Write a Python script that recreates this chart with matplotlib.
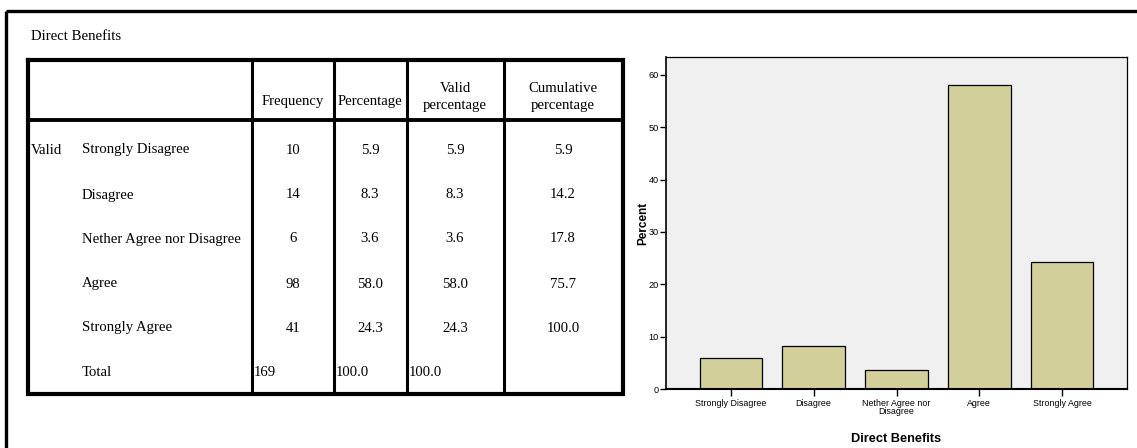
import matplotlib
matplotlib.use("Agg")
import matplotlib.pyplot as plt

# ---- data ----
title = "Direct Benefits"
categories = ["Strongly Disagree", "Disagree", "Nether Agree nor Disagree", "Agree", "Strongly Agree"]
tick_labels = ["Strongly Disagree", "Disagree", "Nether Agree nor\nDisagree", "Agree", "Strongly Agree"]
frequency = [10, 14, 6, 98, 41]
percentage = [5.9, 8.3, 3.6, 58.0, 24.3]
valid_percentage = [5.9, 8.3, 3.6, 58.0, 24.3]
cumulative_percentage = [5.9, 14.2, 17.8, 75.7, 100.0]
total_frequency = 169
total_percentage = 100.0
total_valid = 100.0
headers = ["Frequency", "Percentage", "Valid\npercentage", "Cumulative\npercentage"]
y_ticks = [0, 10, 20, 30, 40, 50, 60]

W, H = 1137, 448
fig = plt.figure(figsize=(W / 100, H / 100), dpi=100)
fig.patch.set_facecolor("white")

# overlay in pixel coordinates for the frame and table
ov = fig.add_axes([0, 0, 1, 1])
ov.set_xlim(0, W)
ov.set_ylim(H, 0)
ov.axis("off")

# outer frame
ov.plot([6, 6], [11, H + 5], color="black", lw=2.4, solid_capstyle="butt")
ov.plot([6, W + 5], [11, 11], color="black", lw=2.4, solid_capstyle="butt")

serif = ["Liberation Serif", "DejaVu Serif"]
FS = 10.6
ov.text(31, 37, title, fontsize=FS, family=serif, va="center", ha="left")

# table geometry
tl, tr, tt, tb = 28, 623, 60, 394
cols = [252, 334, 407, 504]
hdr_bot = 120
ov.plot([tl, tr, tr, tl, tl], [tt, tt, tb, tb, tt], color="black", lw=3.0,
        solid_joinstyle="miter")
ov.plot([tl, tr], [hdr_bot, hdr_bot], color="black", lw=2.8)
for cx in cols:
    ov.plot([cx, cx], [tt, tb], color="black", lw=2.2)

centers = [293, 370, 455, 563]
for hdr, cx in zip(headers, centers):
    ov.text(cx, 101 if "\n" not in hdr else 97, hdr, fontsize=FS, family=serif,
            ha="center", va="center", linespacing=1.45)

row_y = [150, 195, 239, 284, 328]
total_y = 373
ov.text(31, row_y[0], "Valid", fontsize=FS, family=serif, va="center", ha="left")
for i, cat in enumerate(categories):
    y = row_y[i]
    ov.text(82, y, cat, fontsize=FS, family=serif, va="center", ha="left")
    vals = [f"{frequency[i]}", f"{percentage[i]:.1f}",
            f"{valid_percentage[i]:.1f}", f"{cumulative_percentage[i]:.1f}"]
    for v, cx in zip(vals, centers):
        ov.text(cx, y, v, fontsize=FS, family=serif, va="center", ha="center")
ov.text(82, total_y, "Total", fontsize=FS, family=serif, va="center", ha="left")
ov.text(254, total_y, f"{total_frequency}", fontsize=FS, family=serif, va="center", ha="left")
ov.text(336, total_y, f"{total_percentage:.1f}", fontsize=FS, family=serif, va="center", ha="left")
ov.text(409, total_y, f"{total_valid:.1f}", fontsize=FS, family=serif, va="center", ha="left")

# ---- bar chart ----
al, ar, at, ab = 666, 1127, 57, 389
ax = fig.add_axes([al / W, (H - ab) / H, (ar - al) / W, (ab - at) / H])
ax.set_facecolor("#f0f0f0")
x = list(range(len(categories)))
ax.bar(x, percentage, width=0.75, color="#d3cf9a", edgecolor="black", linewidth=0.9, zorder=2)
ax.set_xlim(-0.78, len(categories) - 1 + 0.78)
ax.set_ylim(0, 63.4)
ax.set_yticks(y_ticks)
ax.set_xticks(x)
ax.set_xticklabels(tick_labels, fontsize=6.4, family="Liberation Sans", linespacing=0.95)
ax.set_yticklabels([str(t) for t in y_ticks], fontsize=6.6, family="Liberation Sans")
for s in ax.spines.values():
    s.set_linewidth(0.9)
    s.set_color("black")
ax.spines["bottom"].set_linewidth(1.5)
ax.spines["left"].set_linewidth(1.2)
ax.tick_params(axis="y", length=4, width=1.0, pad=1, colors="black")
ax.tick_params(axis="x", length=5, width=1.0, pad=2, colors="black")
ax.set_ylabel("Percent", fontsize=8.5, fontweight="bold", family="Liberation Sans", labelpad=0)
ax.set_xlabel("Direct Benefits", fontsize=9.2, fontweight="bold", family="Liberation Sans", labelpad=12)

fig.savefig("out.png", dpi=100, facecolor="white")
